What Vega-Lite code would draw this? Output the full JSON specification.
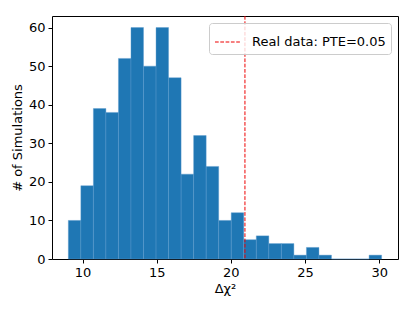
{
  "$schema": "https://vega.github.io/schema/vega-lite/v6.json",
  "width": 346,
  "height": 243,
  "autosize": {"type": "none"},
  "padding": {"left": 52, "top": 16, "right": 17, "bottom": 53},
  "background": "white",
  "config": {
    "view": {"stroke": "black", "strokeWidth": 1},
    "font": "DejaVu Sans",
    "axis": {
      "domain": false,
      "grid": false,
      "tickColor": "black",
      "tickSize": 4,
      "tickWidth": 1,
      "labelColor": "black",
      "labelFontSize": 13,
      "labelFont": "DejaVu Sans",
      "titleFont": "DejaVu Sans",
      "titleFontSize": 13,
      "titleFontWeight": "normal",
      "titleColor": "black",
      "labelPadding": 3
    }
  },
  "datasets": {
    "hist": [
      {"lo": 9.040, "hi": 9.885, "count": 10},
      {"lo": 9.885, "hi": 10.730, "count": 19},
      {"lo": 10.730, "hi": 11.575, "count": 39},
      {"lo": 11.575, "hi": 12.420, "count": 38},
      {"lo": 12.420, "hi": 13.265, "count": 52},
      {"lo": 13.265, "hi": 14.110, "count": 60},
      {"lo": 14.110, "hi": 14.955, "count": 50},
      {"lo": 14.955, "hi": 15.800, "count": 60},
      {"lo": 15.800, "hi": 16.645, "count": 47},
      {"lo": 16.645, "hi": 17.490, "count": 22},
      {"lo": 17.490, "hi": 18.335, "count": 32},
      {"lo": 18.335, "hi": 19.180, "count": 24},
      {"lo": 19.180, "hi": 20.025, "count": 10},
      {"lo": 20.025, "hi": 20.870, "count": 12},
      {"lo": 20.870, "hi": 21.715, "count": 5},
      {"lo": 21.715, "hi": 22.560, "count": 6},
      {"lo": 22.560, "hi": 23.405, "count": 4},
      {"lo": 23.405, "hi": 24.250, "count": 4},
      {"lo": 24.250, "hi": 25.095, "count": 1},
      {"lo": 25.095, "hi": 25.940, "count": 3},
      {"lo": 25.940, "hi": 26.785, "count": 1},
      {"lo": 26.785, "hi": 27.630, "count": 0},
      {"lo": 27.630, "hi": 28.475, "count": 0},
      {"lo": 28.475, "hi": 29.320, "count": 0},
      {"lo": 29.320, "hi": 30.165, "count": 1}
    ],
    "real": [
      {"value": 20.95, "label": "Real data: PTE=0.05"}
    ]
  },
  "layer": [
    {
      "data": {"name": "hist"},
      "mark": {"type": "rect", "color": "#1f77b4", "stroke": "#5a9bd0", "strokeWidth": 0.4},
      "encoding": {
        "x": {
          "field": "lo",
          "type": "quantitative",
          "scale": {"domain": [7.94, 31.27], "nice": false, "zero": false},
          "axis": {"values": [10, 15, 20, 25, 30], "title": "Δχ²", "titlePadding": 3}
        },
        "x2": {"field": "hi"},
        "y": {
          "field": "count",
          "type": "quantitative",
          "scale": {"domain": [0, 63], "nice": false},
          "axis": {"values": [0, 10, 20, 30, 40, 50, 60], "title": "# of Simulations", "titlePadding": 4}
        },
        "y2": {"datum": 0}
      }
    },
    {
      "data": {"name": "real"},
      "mark": {"type": "rule", "strokeDash": [3.7, 1.6], "strokeWidth": 1},
      "encoding": {
        "x": {"field": "value", "type": "quantitative"},
        "color": {
          "field": "label",
          "type": "nominal",
          "scale": {"range": ["#ee0000"]},
          "legend": {
            "title": null,
            "orient": "top-right",
            "offset": 7,
            "symbolType": "stroke",
            "symbolStrokeWidth": 1.2,
            "symbolDash": [3.7, 1.6],
            "symbolSize": 676,
            "labelFontSize": 13,
            "labelFont": "DejaVu Sans",
            "labelColor": "black",
            "labelOffset": 10,
            "strokeColor": "#cccccc",
            "fillColor": "rgba(255,255,255,0.8)",
            "cornerRadius": 3,
            "padding": 5,
            "symbolStrokeColor": "#ee0000",
            "symbolOpacity": 1,
            "encode": {
              "symbols": {
                "update": {
                  "stroke": {"value": "#ee0000"},
                  "strokeOpacity": {"value": 1},
                  "opacity": {"value": 1}
                }
              }
            }
          }
        }
      }
    }
  ]
}
